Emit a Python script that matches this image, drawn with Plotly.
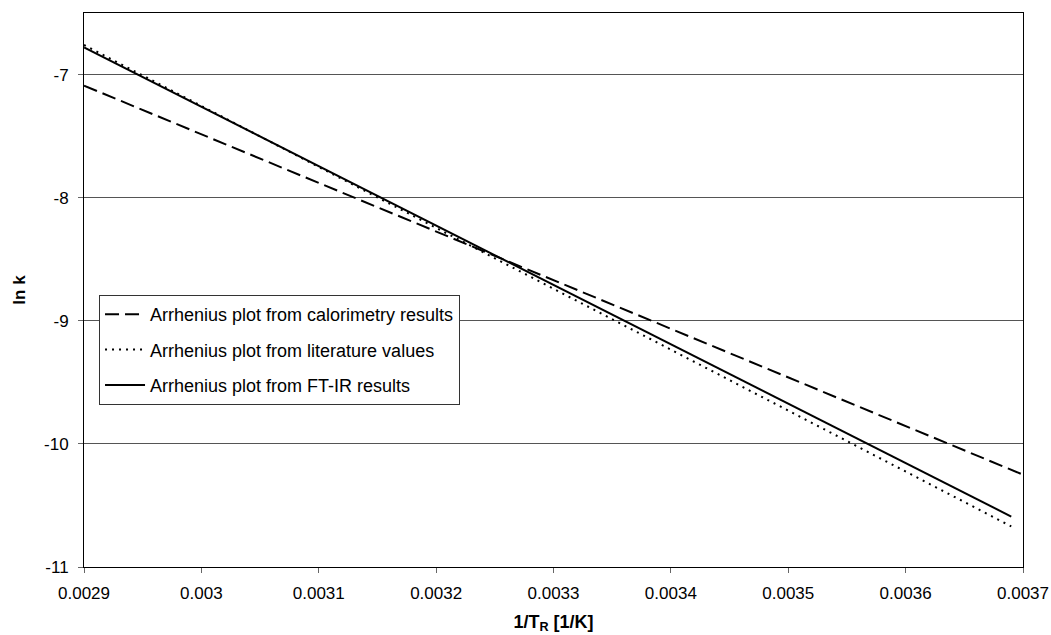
import plotly.graph_objects as go

# Data
x_cal = [0.0029, 0.0037]
y_cal = [-7.09, -10.25]
x_lit = [0.0029, 0.00369]
y_lit = [-6.76, -10.67]
x_ftir = [0.0029, 0.00369]
y_ftir = [-6.78, -10.59]

names = ["Arrhenius plot from calorimetry results",
         "Arrhenius plot from literature values",
         "Arrhenius plot from FT-IR results"]

x_tickvals = [0.0029, 0.0030, 0.0031, 0.0032, 0.0033, 0.0034, 0.0035, 0.0036, 0.0037]
x_ticktext = ["0.0029", "0.003", "0.0031", "0.0032", "0.0033", "0.0034", "0.0035", "0.0036", "0.0037"]
y_tickvals = [-11, -10, -9, -8, -7]
y_ticktext = ["-11", "-10", "-9", "-8", "-7"]

FONT = "Liberation Sans, Arial, sans-serif"

fig = go.Figure()
fig.add_trace(go.Scatter(x=x_cal, y=y_cal, mode="lines", name=names[0], legendgroup="a",
                         line=dict(color="black", width=2, dash="14px,6px")))
fig.add_trace(go.Scatter(x=x_lit, y=y_lit, mode="lines", name=names[1], legendgroup="b",
                         line=dict(color="black", width=2, dash="2px,5px")))
fig.add_trace(go.Scatter(x=x_ftir, y=y_ftir, mode="lines", name=names[2], legendgroup="c",
                         line=dict(color="black", width=2)))

fig.update_layout(
    width=1051, height=635,
    margin=dict(l=84, r=28, t=13, b=68, autoexpand=False),
    paper_bgcolor="white", plot_bgcolor="white",
    font=dict(family=FONT, size=17, color="black"),
    showlegend=True,
    legend=dict(x=0.016, y=0.491, xanchor="left", yanchor="top",
                bordercolor="#333", borderwidth=1, bgcolor="white",
                font=dict(size=18), traceorder="grouped", tracegroupgap=9,
                itemwidth=40, entrywidth=388, entrywidthmode="pixels"),
    hovermode=False,
)
fig.update_xaxes(
    range=[0.0029, 0.0037], tickvals=x_tickvals, ticktext=x_ticktext,
    showgrid=False, zeroline=False, automargin=False,
    showline=True, linecolor="black", linewidth=1, mirror=True,
    ticks="outside", ticklen=5, tickcolor="#666", ticklabelstandoff=6,
    tickfont=dict(size=17),
    title=dict(text="<b>1/T<sub>R</sub> [1/K]</b>", font=dict(size=18), standoff=12),
)
fig.update_yaxes(
    range=[-11, -6.5], tickvals=y_tickvals, ticktext=y_ticktext,
    showgrid=True, gridcolor="#555", gridwidth=1, zeroline=False, automargin=False,
    showline=True, linecolor="black", linewidth=1, mirror=True,
    ticks="outside", ticklen=5, tickcolor="#666", ticklabelstandoff=6,
    tickfont=dict(size=17),
    title=dict(text="<b>ln k</b>", font=dict(size=17), standoff=14),
)

fig.write_html("out.html")
